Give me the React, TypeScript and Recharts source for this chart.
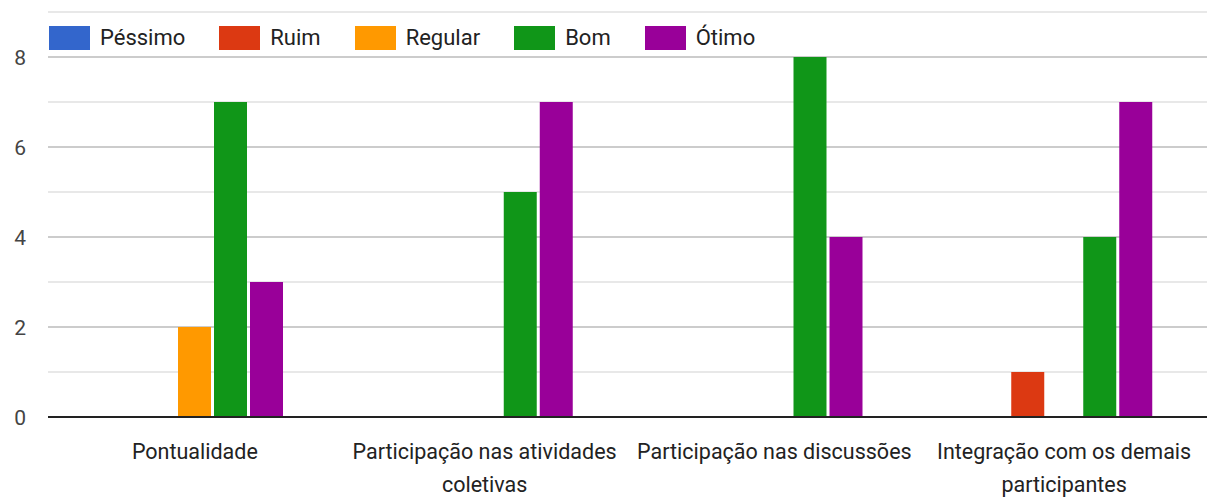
import React from "react";
import { Bar, BarChart, CartesianGrid, XAxis, YAxis } from "recharts";

document.body.style.margin = "0";

const categories = [
  "Pontualidade",
  "Participação nas atividades coletivas",
  "Participação nas discussões",
  "Integração com os demais participantes",
];

// wrapped tick labels, one entry per category
const categoryLines = [
  ["Pontualidade"],
  ["Participação nas atividades", "coletivas"],
  ["Participação nas discussões"],
  ["Integração com os demais", "participantes"],
];

const pessimo = [0, 0, 0, 0];
const ruim = [0, 0, 0, 1];
const regular = [2, 0, 0, 0];
const bom = [7, 5, 8, 4];
const otimo = [3, 7, 4, 7];

const yTicks = [0, 1, 2, 3, 4, 5, 6, 7, 8, 9];
const yLabels = [0, 2, 4, 6, 8];

const series = [
  { key: "pessimo", name: "Péssimo", color: "#3366cc", values: pessimo },
  { key: "ruim", name: "Ruim", color: "#dc3912", values: ruim },
  { key: "regular", name: "Regular", color: "#ff9900", values: regular },
  { key: "bom", name: "Bom", color: "#109618", values: bom },
  { key: "otimo", name: "Ótimo", color: "#990099", values: otimo },
];

const data = categories.map((category, i) => {
  const row: Record<string, string | number> = { category };
  series.forEach((s) => {
    row[s.key] = s.values[i];
  });
  return row;
});

const FONT = "Roboto, Arial, sans-serif";

function YTick({ x, y, payload }: any) {
  if (!yLabels.includes(payload.value)) return null;
  return (
    <text x={x} y={y} dy="0.36em" textAnchor="end" fill="#444" fontSize={21} fontFamily={FONT}>
      {payload.value}
    </text>
  );
}

function XTick({ x, y, payload }: any) {
  const lines = categoryLines[payload.index] ?? [payload.value];
  return (
    <text x={x} y={y} textAnchor="middle" fill="#222" fontSize={21.5} fontFamily={FONT}>
      {lines.map((line, i) => (
        <tspan key={i} x={x} dy={i === 0 ? 40 : 33}>
          {line}
        </tspan>
      ))}
    </text>
  );
}

function GridLine(props: any) {
  const { x1, x2, y1, y, height } = props;
  const value = Math.round((9 * (y + height - y1)) / height);
  if (value === 0) return <line key={props.key} />;
  const major = value % 2 === 0 && value < 9;
  return (
    <line
      key={props.key}
      x1={x1}
      x2={x2}
      y1={y1}
      y2={y1}
      stroke={major ? "#cccccc" : "#e8e8e8"}
      strokeWidth={2}
    />
  );
}

export default function App() {
  return (
    <div style={{ position: "relative", width: 1207, height: 498, background: "#fff", overflow: "hidden" }}>
      <BarChart
        width={1209}
        height={498}
        data={data}
        margin={{ top: 12, right: 0, left: 0, bottom: 0 }}
        barSize={33}
        barGap={3}
      >
        <CartesianGrid vertical={false} horizontal={GridLine} />
        <YAxis
          width={48}
          domain={[0, 9]}
          ticks={yTicks}
          interval={0}
          axisLine={false}
          tickLine={false}
          tickSize={0}
          tickMargin={22}
          tick={<YTick />}
        />
        <XAxis
          dataKey="category"
          height={81}
          interval={0}
          padding={{ left: 2, right: 0 }}
          tickLine={false}
          tickSize={0}
          axisLine={{ stroke: "#222", strokeWidth: 2 }}
          tick={<XTick />}
        />
        {series.map((s) => (
          <Bar key={s.key} dataKey={s.key} name={s.name} fill={s.color} isAnimationActive={false} />
        ))}
      </BarChart>
      <div
        style={{
          position: "absolute",
          left: 49,
          top: 26,
          display: "flex",
          alignItems: "center",
          fontFamily: FONT,
          fontSize: 22,
          color: "#222",
          lineHeight: "24px",
        }}
      >
        {series.map((s) => (
          <div key={s.key} style={{ display: "flex", alignItems: "center", marginRight: 34 }}>
            <span style={{ width: 41, height: 24, background: s.color, marginRight: 10 }} />
            <span>{s.name}</span>
          </div>
        ))}
      </div>
    </div>
  );
}
